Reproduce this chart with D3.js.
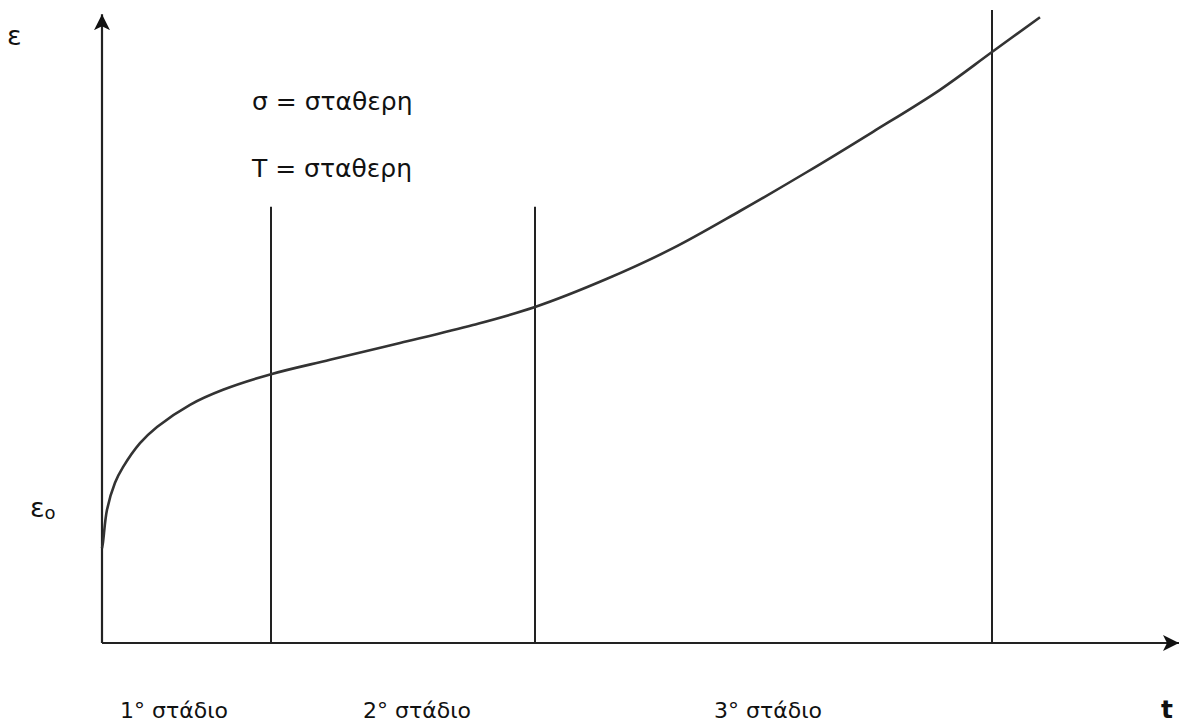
<!DOCTYPE html>
<html><head><meta charset="utf-8">
<script src="https://cdn.jsdelivr.net/npm/d3@7"></script>
<style>
html,body{margin:0;padding:0;background:#fff;}
svg{display:block;}
text{font-family:"DejaVu Sans","Noto Sans",sans-serif;fill:#111;}
</style></head>
<body>
<svg id="chart" width="1181" height="726"></svg>
<script>
// creep curve ε(t), time and strain in nominal units
const curveT   = [0, 0.01, 0.05, 0.13, 0.21, 0.38, 0.55, 0.88, 1.21, 1.69, 2.28, 2.98, 3.71, 4.33, 5.05, 5.71, 6.38, 7.05, 7.71, 8.38, 8.90, 9.38];
const curveEps = [1.58, 1.68, 2.22, 2.67, 2.93, 3.33, 3.60, 3.97, 4.22, 4.48, 4.72, 5.00, 5.30, 5.60, 6.07, 6.58, 7.20, 7.85, 8.52, 9.22, 9.85, 10.43];
// stage boundaries
const boundaryT   = [1.69, 4.33, 8.90];
const boundaryTop = [7.27, 7.27, 10.55];
const stageLabels = ["1° στάδιο", "2° στάδιο", "3° στάδιο"];
const stageLabelT = [0.18, 2.61, 6.12];
const conditionLabels = ["σ = σταθερη", "T = σταθερη"];
const conditionT = 1.50;
const conditionEps = [8.88, 7.77];
const yLabel = "ε";
const y0Label = "ε";
const xLabel = "t";

const svg = d3.select("#chart");
const x = d3.scaleLinear().domain([0, 10.78]).range([102, 1180]);
const y = d3.scaleLinear().domain([0, 10.5]).range([643, 13]);

const defs = svg.append("defs");
defs.append("marker").attr("id","arr").attr("viewBox","0 0 10 10")
  .attr("refX",10).attr("refY",5).attr("markerWidth",16).attr("markerHeight",16)
  .attr("markerUnits","userSpaceOnUse").attr("orient","auto")
  .append("path").attr("d","M0,0 L10,5 L0,10 L2.5,5 Z").attr("fill","#111");

// axes
svg.append("line").attr("x1",x(0)).attr("y1",y(0)).attr("x2",x(0)).attr("y2",y(10.48))
  .attr("stroke","#222").attr("stroke-width",2.2).attr("marker-end","url(#arr)");
svg.append("line").attr("x1",x(0)).attr("y1",y(0)).attr("x2",x(10.77)).attr("y2",y(0))
  .attr("stroke","#222").attr("stroke-width",2.2).attr("marker-end","url(#arr)");

// stage boundaries
svg.selectAll("line.b").data(boundaryT).enter().append("line").attr("class","b")
  .attr("x1",d=>x(d)).attr("x2",d=>x(d)).attr("y1",y(0)).attr("y2",(d,i)=>y(boundaryTop[i]))
  .attr("stroke","#222").attr("stroke-width",2);

// creep curve
const pts = curveT.map((t,i)=>[t,curveEps[i]]);
svg.append("path").datum(pts)
  .attr("d", d3.line().x(d=>x(d[0])).y(d=>y(d[1])).curve(d3.curveCatmullRom.alpha(0.5)))
  .attr("fill","none").attr("stroke","#333").attr("stroke-width",2.6);

// labels
svg.append("text").attr("x",7).attr("y",45).attr("font-size",27).text(yLabel);
const e0 = svg.append("text").attr("x",30).attr("y",517).attr("font-size",27);
e0.append("tspan").text(y0Label);
e0.append("tspan").attr("font-size",18).attr("dy",2).text("o");
svg.append("text").attr("x",1161).attr("y",718).attr("font-size",25).attr("font-weight","bold").text(xLabel);

svg.selectAll("text.c").data(conditionLabels).enter().append("text").attr("class","c")
  .attr("x",x(conditionT)).attr("y",(d,i)=>y(conditionEps[i]))
  .attr("font-size",25).text(d=>d);

svg.selectAll("text.s").data(stageLabels).enter().append("text").attr("class","s")
  .attr("x",(d,i)=>x(stageLabelT[i])).attr("y",718)
  .attr("font-size",22).text(d=>d);
</script>
</body></html>
